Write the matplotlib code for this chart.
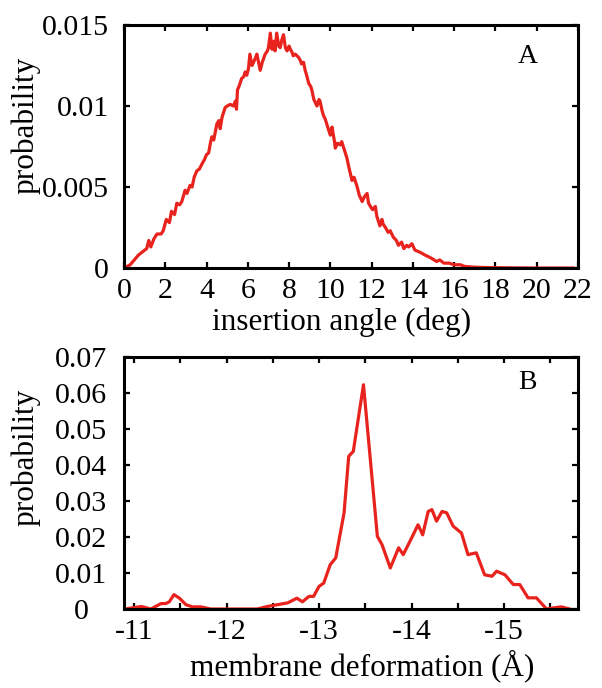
import matplotlib
matplotlib.use('Agg')
import numpy as np
import matplotlib.pyplot as plt
from matplotlib.ticker import FixedLocator

plt.rcParams['font.family'] = ['Liberation Serif', 'DejaVu Serif']

#======================================================================================
# Panel A: insertion angle distribution
angle_deg = [0, 0.3, 0.5, 0.7, 0.9, 1.1, 1.2, 1.3, 1.45, 1.6, 1.8, 1.9, 2.05, 2.2, 2.3, 2.45,
             2.56, 2.7, 2.8, 2.96, 3.05, 3.2, 3.3, 3.4, 3.53, 3.65, 3.77, 3.9, 4.0, 4.1, 4.2,
             4.26, 4.35, 4.5, 4.6, 4.66, 4.75, 4.9, 5.0, 5.15, 5.3, 5.4, 5.45, 5.5, 5.6, 5.7,
             5.8, 5.87, 5.95, 6.03, 6.1, 6.2, 6.28, 6.38, 6.44, 6.6, 6.7, 6.84, 6.95, 7.0,
             7.09, 7.17, 7.25, 7.32, 7.4, 7.5, 7.57, 7.65, 7.73, 7.82, 7.9, 8.0, 8.06, 8.15,
             8.2, 8.3, 8.46, 8.55, 8.6, 8.7, 8.78, 8.85, 8.95, 9.05, 9.1, 9.2, 9.35, 9.45,
             9.5, 9.6, 9.67, 9.75, 9.92, 10.0, 10.08, 10.2, 10.24, 10.35, 10.48, 10.55, 10.65,
             10.8, 10.9, 11.05, 11.15, 11.3, 11.4, 11.54, 11.65, 11.78, 11.85, 11.94, 12.05,
             12.18, 12.25, 12.4, 12.5, 12.56, 12.67, 12.8, 12.9, 13.05, 13.2, 13.3, 13.45,
             13.56, 13.7, 13.8, 13.95, 14.1, 14.3, 14.45, 14.58, 14.75, 14.9, 15.15, 15.3,
             15.5, 15.75, 16.0, 16.3, 16.5, 17.0, 17.5, 18.0, 19.0, 20.0, 21.0, 21.75]
angle_prob = [0, 0.0002, 0.0005, 0.0008, 0.0010, 0.0012, 0.0017, 0.0013, 0.0018, 0.0021, 0.0021,
              0.0023, 0.0030, 0.0028, 0.0035, 0.0033, 0.0040, 0.0039, 0.0041, 0.0048, 0.0046,
              0.0051, 0.0050, 0.0056, 0.0060, 0.0061, 0.0064, 0.0067, 0.0070, 0.0071, 0.0078,
              0.0081, 0.0079, 0.0089, 0.0091, 0.0086, 0.0093, 0.0099, 0.0100, 0.0101, 0.0100,
              0.0103, 0.0098, 0.0110, 0.0113, 0.0117, 0.0118, 0.0121, 0.0119, 0.0123, 0.0132,
              0.0125, 0.0127, 0.0130, 0.0132, 0.0122, 0.0127, 0.0132, 0.0134, 0.0136, 0.0145,
              0.0135, 0.0140, 0.0134, 0.0145, 0.0137, 0.0136, 0.0141, 0.0144, 0.0136, 0.0134,
              0.0137, 0.0135, 0.0133, 0.0131, 0.0132, 0.0130, 0.0128, 0.0126, 0.0127, 0.0122,
              0.0119, 0.0114, 0.0112, 0.0110, 0.0104, 0.0100, 0.0104, 0.0103, 0.0097, 0.0094,
              0.0092, 0.0085, 0.0082, 0.0087, 0.0078, 0.0074, 0.0077, 0.0076, 0.0078, 0.0074,
              0.0068, 0.0062, 0.0054, 0.0056, 0.0050, 0.0045, 0.0041, 0.0044, 0.0046, 0.0040,
              0.0038, 0.0036, 0.0038, 0.0032, 0.0026, 0.0030, 0.0027, 0.0025, 0.0022, 0.0023,
              0.0019, 0.0017, 0.0014, 0.0016, 0.0012, 0.0014, 0.0013, 0.0015, 0.0011, 0.0010,
              0.0009, 0.0008, 0.0007, 0.0006, 0.0004, 0.0005, 0.0003, 0.0003, 0.0002, 0.0002,
              0.0001, 0.00005, 0.00003, 0.00002, 0.00001, 0, 0, 0]

angle_ticks   = [0, 2, 4, 6, 8, 10, 12, 14, 16, 18, 20, 22]
angle_yticks  = [0, 0.005, 0.01, 0.015]
angle_ylabels = ['0', '0.005', '0.01', '0.015']

#======================================================================================
# Panel B: membrane deformation distribution
deform = [-10.90, -10.97, -11.08, -11.18, -11.29, -11.34, -11.38, -11.43, -11.49, -11.56,
          -11.63, -11.72, -11.83, -12.33, -12.44, -12.55, -12.66, -12.76, -12.82, -12.89,
          -12.94, -13.00, -13.05, -13.12, -13.18, -13.27, -13.32, -13.37, -13.48, -13.49,
          -13.63, -13.68, -13.77, -13.86, -13.91, -14.00, -14.07, -14.12, -14.18, -14.22,
          -14.27, -14.33, -14.38, -14.45, -14.54, -14.61, -14.70, -14.79, -14.87, -14.92,
          -15.01, -15.10, -15.17, -15.26, -15.35, -15.46, -15.53, -15.62, -15.71]
deform_prob = [0, 0.0003, 0.0007, 0, 0.0015, 0.0015, 0.0020, 0.0040, 0.0030, 0.0012,
               0.0006, 0.0006, 0, 0, 0.0007, 0.0012, 0.0017, 0.0030, 0.0020, 0.0035,
               0.0035, 0.0063, 0.0072, 0.0123, 0.0142, 0.0267, 0.0424, 0.0438, 0.0623, 0.0595,
               0.0202, 0.0179, 0.0114, 0.0170, 0.0151, 0.0197, 0.0234, 0.0206, 0.0271, 0.0276,
               0.0244, 0.0271, 0.0267, 0.0230, 0.0211, 0.0151, 0.0156, 0.0095, 0.0091, 0.0105,
               0.0095, 0.0068, 0.0068, 0.0031, 0.0031, 0, 0.0003, 0.0006, 0]

deform_ticks   = [-11, -12, -13, -14, -15]
deform_xlabels = ['-11', '-12', '-13', '-14', '-15']
deform_minor   = [-11.5, -12.5, -13.5, -14.5, -15.5]
deform_yticks  = [0, 0.01, 0.02, 0.03, 0.04, 0.05, 0.06, 0.07]
deform_ylabels = ['0', '0.01', '0.02', '0.03', '0.04', '0.05', '0.06', '0.07']

#======================================================================================
red = '#e8231e'
fs = 21.5
lfs = 22.5
W, H = 602, 688

fig = plt.figure(figsize=(W / 100, H / 100), dpi=100)
axA = fig.add_axes([124 / W, 1 - 268 / H, 454 / W, 243 / H])
axB = fig.add_axes([124 / W, 1 - 609 / H, 454 / W, 252 / H])

def style(ax):
    for s in ax.spines.values():
        s.set_linewidth(2.2)
    ax.tick_params(which='both', direction='in', top=True, right=True,
                   length=4, width=1.6, labelsize=fs)

# panel A
axA.plot(angle_deg, angle_prob, color=red, lw=2.3)
axA.set_xlim(0, 22)
axA.set_ylim(0, 0.015)
axA.set_xticks(angle_ticks)
axA.set_xticklabels([str(t) for t in angle_ticks])
axA.set_yticks(angle_yticks)
axA.set_yticklabels(angle_ylabels)
style(axA)
axA.tick_params(axis='x', pad=7)
axA.tick_params(axis='y', pad=11)
axA.text(0.889, 0.87, 'A', transform=axA.transAxes, fontsize=20, ha='center', va='center')

# panel B
axB.plot(deform, deform_prob, color=red, lw=2.3)
axB.set_xlim(-10.89, -15.8)
axB.set_ylim(0, 0.07)
axB.set_xticks(deform_ticks)
axB.set_xticklabels(deform_xlabels)
axB.xaxis.set_minor_locator(FixedLocator(deform_minor))
axB.set_yticks(deform_yticks)
axB.set_yticklabels(deform_ylabels)
style(axB)
axB.tick_params(axis='x', pad=7)
axB.tick_params(axis='y', pad=31)
for lab in axB.get_yticklabels():
    lab.set_horizontalalignment('center')
axB.text(0.889, 0.9, 'B', transform=axB.transAxes, fontsize=20, ha='center', va='center')

fig.text(342 / W, 1 - 330 / H, 'insertion angle (deg)', fontsize=lfs, ha='center', va='baseline')
fig.text(362 / W, 1 - 675 / H, 'membrane deformation (Å)', fontsize=lfs, ha='center', va='baseline')
fig.text(26 / W, 1 - 125 / H, 'probability', fontsize=lfs, rotation=90, ha='center', va='center')
fig.text(26 / W, 1 - 457 / H, 'probability', fontsize=lfs, rotation=90, ha='center', va='center')

fig.savefig('out.png', dpi=100)
